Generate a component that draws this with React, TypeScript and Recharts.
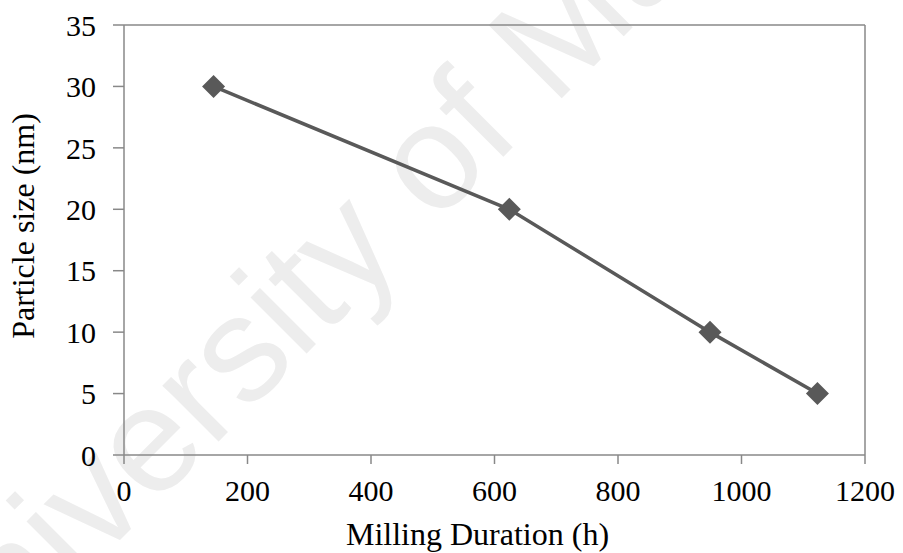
import React from "react";
import { LineChart, Line, XAxis, YAxis, ReferenceLine, Label } from "recharts";

const millingHours = [145, 624, 949, 1123];
const particleSizeNm = [30, 20, 10, 5];
const xTicks = [0, 200, 400, 600, 800, 1000, 1200];
const yTicks = [0, 5, 10, 15, 20, 25, 30, 35];
const xTitle = "Milling Duration (h)";
const yTitle = "Particle size (nm)";
const watermark = "University of Malaya";

const data = millingHours.map((h, i) => ({ h, size: particleSizeNm[i] }));

const AXIS = "#888888";
const LINE = "#595959";
const FONT = '"Liberation Serif", "Times New Roman", "DejaVu Serif", serif';

const Diamond = (props: any) => {
  const { cx, cy } = props;
  if (cx == null || cy == null) return null;
  const r = 11.5;
  return (
    <path
      d={`M${cx},${cy - r}L${cx + r},${cy}L${cx},${cy + r}L${cx - r},${cy}Z`}
      fill={LINE}
      stroke="none"
    />
  );
};

const YTitle = (props: any) => {
  const vb = props.viewBox || { x: 0, y: 25, width: 124, height: 430 };
  const x = vb.x + 34;
  const y = vb.y + vb.height / 2 - 14;
  return (
    <text
      x={x}
      y={y}
      transform={`rotate(-90, ${x}, ${y})`}
      textAnchor="middle"
      style={{ fontFamily: FONT, fontSize: 32 }}
      fill="#000"
    >
      {yTitle}
    </text>
  );
};

const XTitle = (props: any) => {
  const vb = props.viewBox || { x: 124, y: 455, width: 741, height: 98 };
  const x = vb.x + vb.width / 2 - 17;
  const y = vb.y + 90;
  return (
    <text x={x} y={y} textAnchor="middle" style={{ fontFamily: FONT, fontSize: 32, whiteSpace: "pre" }} fill="#000">
      {xTitle}
    </text>
  );
};

const tickStyle = { fill: "#000", fontSize: 30, style: { fontFamily: FONT } } as any;

export default function App() {
  return (
    <div
      style={{
        position: "absolute",
        left: 0,
        top: 0,
        width: 903,
        height: 553,
        background: "#fff",
        fontFamily: FONT,
      }}
    >
      <svg width={903} height={553} style={{ position: "absolute", left: 0, top: 0 }}>
        <text
          x={-60}
          y={720}
          transform="rotate(-45, -60, 720)"
          style={{ fontFamily: '"Liberation Sans", Arial, sans-serif', fontSize: 150 }}
          fill="#ededed"
        >
          {watermark}
        </text>
      </svg>
      <LineChart
        width={903}
        height={553}
        data={data}
        margin={{ top: 25, right: 38, bottom: 0, left: 0 }}
        style={{ fontFamily: FONT }}
      >
        <XAxis
          dataKey="h"
          type="number"
          domain={[0, 1200]}
          ticks={xTicks}
          interval={0}
          height={98}
          tickSize={9}
          tickMargin={16}
          stroke={AXIS}
          strokeWidth={1.5}
          tick={tickStyle}
        >
          <Label content={<XTitle />} />
        </XAxis>
        <YAxis
          type="number"
          domain={[0, 35]}
          ticks={yTicks}
          interval={0}
          width={124}
          tickSize={11}
          tickMargin={17}
          stroke={AXIS}
          strokeWidth={1.5}
          tick={tickStyle}
        >
          <Label content={<YTitle />} />
        </YAxis>
        <ReferenceLine y={35} stroke={AXIS} strokeWidth={1.5} />
        <ReferenceLine x={1200} stroke={AXIS} strokeWidth={1.5} />
        <Line
          dataKey="size"
          stroke={LINE}
          strokeWidth={3.5}
          dot={<Diamond />}
          activeDot={false}
          isAnimationActive={false}
        />
      </LineChart>
    </div>
  );
}
